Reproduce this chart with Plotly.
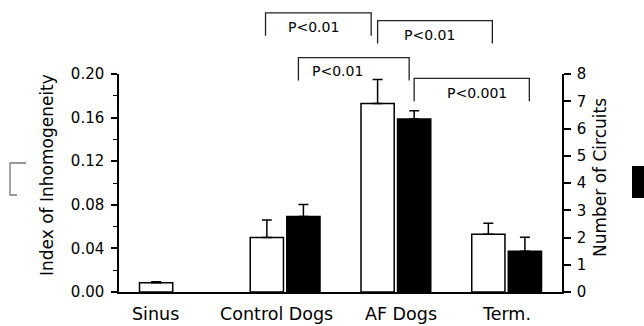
import plotly.graph_objects as go

# ---------------- data ----------------
categories = ["Sinus", "Control Dogs", "AF Dogs", "Term."]
index_mean = [0.0085, 0.050, 0.173, 0.053]          # open bars, left axis
index_err = [0.0008, 0.016, 0.022, 0.010]
circuits_mean = [None, 2.77, 6.35, 1.50]           # filled bars, right axis
circuits_err = [None, 0.44, 0.30, 0.51]
left_ticks = [0.00, 0.04, 0.08, 0.12, 0.16, 0.20]
right_ticks = [0, 1, 2, 3, 4, 5, 6, 7, 8]
# brackets: (left category, left series, right category, right series, top level, label)
brackets = [
    ("Control Dogs", "open", "AF Dogs", "open", 0.256, "P<0.01"),
    ("AF Dogs", "open", "Term.", "open", 0.249, "P<0.01"),
    ("Control Dogs", "filled", "AF Dogs", "filled", 0.215, "P<0.01"),
    ("AF Dogs", "filled", "Term.", "filled", 0.196, "P<0.001"),
]

# ---------------- style ----------------
W, H = 644, 326
ML, MR, MT, MB = 119, 82, 74, 34
PW, PH = W - ML - MR, H - MT - MB
FONT = "DejaVu Sans"
BAR_W = 0.30
OFFSET = {"open": -0.315, "filled": 0.015}
label_shift = [-18.5, -9, 5, 0]
bracket_leg = 0.021
bracket_nudge = [(-0.012, -0.058), (0.0, 0.036), (-0.045, -0.045), (0.0, 0.04)]
bracket_text_dx = [-0.04, -0.05, -0.15, 0.05]
bracket_text_dy = [-0.013, -0.013, -0.012, -0.013]

def px_x(p):
    return (p - ML) / PW

def px_y(p):
    return (MT + PH - p) / PH

ymax = left_ticks[-1]

fig = go.Figure()
fig.add_trace(go.Bar(
    x=categories, y=index_mean, width=BAR_W, offset=OFFSET["open"],
    marker=dict(color="white", line=dict(color="black", width=1.5)),
    error_y=dict(type="data", symmetric=False, array=index_err,
                 arrayminus=[0] * len(index_err), color="black",
                 thickness=1.5, width=5),
    yaxis="y", showlegend=False,
))
fig.add_trace(go.Bar(
    x=categories, y=circuits_mean, width=BAR_W, offset=OFFSET["filled"],
    marker=dict(color="black", line=dict(color="black", width=1.5)),
    error_y=dict(type="data", symmetric=False, array=circuits_err,
                 arrayminus=[0] * len(circuits_err), color="black",
                 thickness=1.5, width=5),
    yaxis="y2", showlegend=False,
))

shapes = []
annotations = []
for i, (c1, s1, c2, s2, lvl, lab) in enumerate(brackets):
    x1 = categories.index(c1) + OFFSET[s1] + BAR_W / 2 + bracket_nudge[i][0]
    x2 = categories.index(c2) + OFFSET[s2] + BAR_W / 2 + bracket_nudge[i][1]
    yt = lvl / ymax
    yb = (lvl - bracket_leg) / ymax
    shapes.append(dict(type="path", xref="x", yref="paper",
                       path=f"M {x1},{yb} L {x1},{yt} L {x2},{yt} L {x2},{yb}",
                       line=dict(color="#222", width=1.3)))
    annotations.append(dict(x=(x1 + x2) / 2 + bracket_text_dx[i],
                            y=(lvl + bracket_text_dy[i]) / ymax,
                            xref="x", yref="paper", text=lab, showarrow=False,
                            font=dict(family=FONT, size=14, color="black"),
                            xanchor="center", yanchor="middle"))

# legend boxes
shapes.append(dict(type="path", xref="paper", yref="paper",
                   path=f"M {px_x(26)},{px_y(163)} L {px_x(10)},{px_y(163)} "
                        f"L {px_x(10)},{px_y(195)} L {px_x(17)},{px_y(195)}",
                   line=dict(color="#777", width=1.3)))
shapes.append(dict(type="rect", xref="paper", yref="paper",
                   x0=px_x(632), x1=px_x(645), y0=px_y(166), y1=px_y(198),
                   fillcolor="black", line=dict(width=0)))

for i, c in enumerate(categories):
    annotations.append(dict(x=i, y=0, xref="x", yref="paper", text=c,
                            showarrow=False, xshift=label_shift[i], yshift=-22,
                            font=dict(family=FONT, size=17.5, color="black"),
                            xanchor="center", yanchor="middle"))

annotations.append(dict(x=0, y=0.5, xref="paper", yref="paper",
                        text="Index of Inhomogeneity", textangle=-90,
                        showarrow=False, xshift=-72, yshift=8,
                        font=dict(family=FONT, size=17, color="black"),
                        xanchor="center", yanchor="middle"))
annotations.append(dict(x=1, y=0.5, xref="paper", yref="paper",
                        text="Number of Circuits", textangle=-90,
                        showarrow=False, xshift=38, yshift=5,
                        font=dict(family=FONT, size=17, color="black"),
                        xanchor="center", yanchor="middle"))

fig.update_layout(
    width=W, height=H,
    margin=dict(l=ML, r=MR, t=MT, b=MB, pad=0),
    paper_bgcolor="white", plot_bgcolor="white",
    barmode="overlay",
    font=dict(family=FONT, color="black"),
    xaxis=dict(type="category", categoryorder="array", categoryarray=categories,
               range=[-0.5, len(categories) - 0.5], showline=True,
               linecolor="black", linewidth=1.5, ticks="", showticklabels=False,
               showgrid=False, zeroline=False, fixedrange=True),
    yaxis=dict(range=[0, ymax], tickvals=left_ticks, tickformat=".2f",
               ticks="outside", ticklen=6, tickwidth=1.5, tickcolor="black",
               minor=dict(dtick=0.02, ticks="outside", ticklen=4, tickwidth=1.2,
                          tickcolor="black", showgrid=False),
               showline=True, linecolor="black", linewidth=1.5,
               showgrid=False, zeroline=False, ticklabelstandoff=4,
               tickfont=dict(family=FONT, size=15, color="black")),
    yaxis2=dict(range=[0, right_ticks[-1]], tickvals=right_ticks,
                overlaying="y", side="right", anchor="x",
                ticks="outside", ticklen=7, tickwidth=1.5, tickcolor="black",
                showline=True, linecolor="black", linewidth=1.5,
                showgrid=False, zeroline=False, ticklabelstandoff=3,
                tickfont=dict(family=FONT, size=15, color="black")),
    shapes=shapes,
    annotations=annotations,
)

fig.write_html("out.html")
